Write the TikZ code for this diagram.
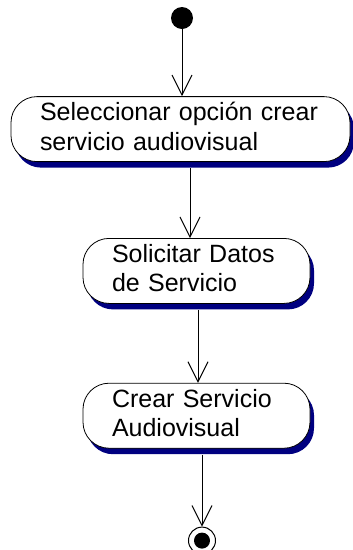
\documentclass[tikz,border=0pt]{standalone}
\usepackage{fontspec}
\setmainfont{Liberation Sans}
\usetikzlibrary{shapes,arrows.meta,positioning,shadows}
\definecolor{shadowblue}{RGB}{0,0,128}

\begin{document}
\begin{tikzpicture}[x=1pt, y=-1pt, node distance=70pt]
    % Define styles
    \tikzstyle{activity} = [rectangle, rounded corners=26pt, draw=black, line width=0.8pt, fill=white, minimum height=65pt, inner xsep=29pt, inner ysep=0pt, text height=24pt, text depth=41pt, align=left, font=\fontsize{25}{29.5}\selectfont, drop shadow={shadow xshift=4pt, shadow yshift=-6pt, fill=shadowblue, opacity=1}]
    \tikzstyle{initial} = [circle, fill=black, inner sep=0pt, minimum size=22pt]
    \tikzstyle{final} = [circle, draw=black, line width=1pt, inner sep=0pt, minimum size=27pt, path picture={\fill[black] (path picture bounding box.center) circle (8pt);}]
    \tikzstyle{flow} = [line width=1pt, -{Straight Barb[length=20pt, width=20pt]}]

    \useasboundingbox (0,0) rectangle (353,550);

    % Nodes
    \node [initial] (start) at (182,18) {};
    \node [activity, text width=281pt, below=67pt of start, xshift=-1.5pt] (select) {Seleccionar opción crear\\servicio audiovisual};
    \node [activity, text width=169pt, below=76pt of select, xshift=16pt] (request) {Solicitar Datos\\de Servicio};
    \node [activity, text width=169pt, below=79pt of request] (create) {Crear Servicio\\Audiovisual};
    \node [final, below=78pt of create, xshift=5.5pt] (end) {};

    % Arrows
    \draw [flow] (start) -- (start |- select.north);
    \draw [flow] ([xshift=9.5pt, yshift=-6pt]select.south) -- ([xshift=-6.5pt]request.north);
    \draw [flow] ([xshift=1.5pt, yshift=-6pt]request.south) -- ([xshift=1.5pt]create.north);
    \draw [flow] ([xshift=5.5pt, yshift=-6pt]create.south) -- (end);
\end{tikzpicture}
\end{document}
